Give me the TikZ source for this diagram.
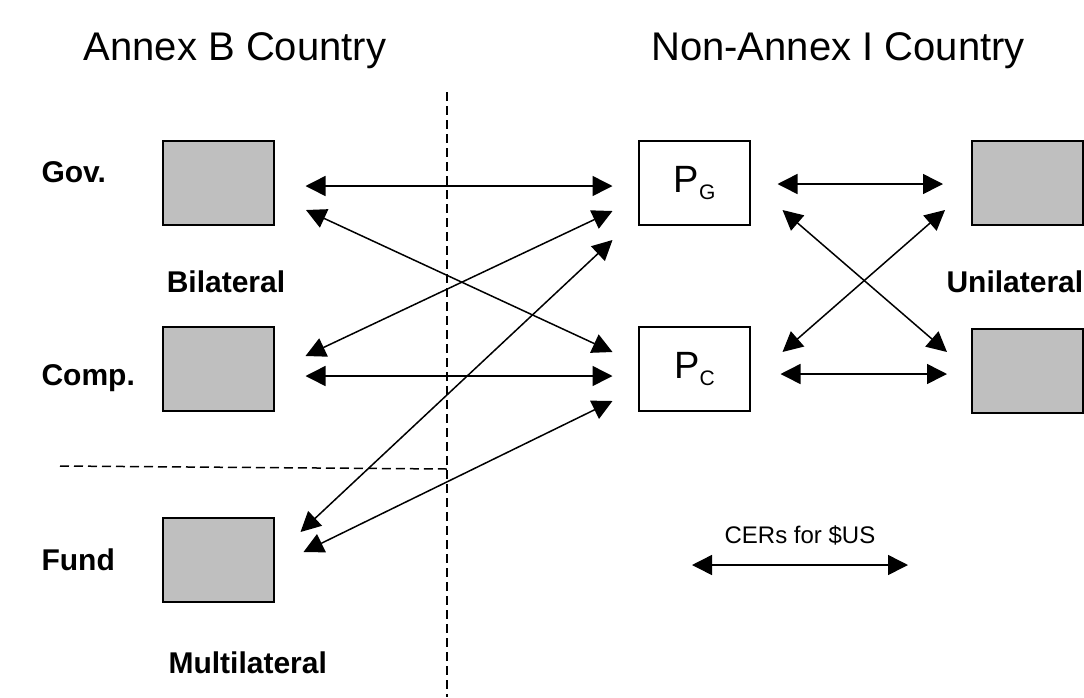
\documentclass[tikz,border=0pt]{standalone}
\usepackage{fontspec}
\setmainfont{Liberation Sans}
\usetikzlibrary{arrows.meta}
\usetikzlibrary{positioning}

\begin{document}
\begin{tikzpicture}[x=1pt,y=-1pt,
  party/.style={rectangle,draw,line width=2pt,fill=black!25,minimum width=111pt,minimum height=84pt,inner sep=0pt},
  price/.style={party,fill=white},
  flow/.style={line width=1.5pt,{Triangle[length=20pt,width=20pt]}-{Triangle[length=20pt,width=20pt]}},
  border/.style={line width=1.5pt,dash pattern=on 9pt off 5pt},
  head/.style={font=\fontsize{40}{44}\selectfont},
  side/.style={font=\bfseries\fontsize{30}{34}\selectfont}]
\useasboundingbox (0,0) rectangle (1084,697);
\clip (0,0) rectangle (1084,697);

\node[head] (annexb) at (235,51) {Annex B Country};
\node[head] (nonannex) at (838,51) {Non-Annex I Country};

\draw[border] (447,92) -- (447,697);
\draw[border] (60,466) -- (447,469);

\node[party] (gov) at (218.5,183) {};
\node[party] (comp) at (218.5,369) {};
\node[party] (fund) at (218.5,560) {};
\node[price] (pg) at (694.5,183) {\fontsize{38}{40}\selectfont P\raisebox{-7pt}{\fontsize{21}{22}\selectfont G}};
\node[price] (pc) at (694.5,369) {\fontsize{38}{40}\selectfont P\raisebox{-7pt}{\fontsize{21}{22}\selectfont C}};
\node[party] (ugov) at (1027.5,182.5) {};
\node[party] (ucomp) at (1027.5,371) {};

\node[side,anchor=west] (govlbl) at (38,172) {Gov.};
\node[side,anchor=west] (complbl) at (38,378) {Comp.};
\node[side,anchor=west] (fundlbl) at (38,560) {Fund};
\node[side] (bilat) at (226,282) {Bilateral};
\node[side,anchor=west] (unilat) at (943,282) {Unilateral};
\node[side,anchor=west] (multilat) at (165,663) {Multilateral};

\draw[flow] ([shift={(30.5,3)}]gov.east) -- ([shift={(-25.5,3)}]pg.west);
\draw[flow] ([shift={(31,27)}]gov.east) -- ([shift={(-25.5,-17)}]pc.west);
\draw[flow] ([shift={(30.5,-13)}]comp.east) -- ([shift={(-25.5,28)}]pg.west);
\draw[flow] ([shift={(30.5,7)}]comp.east) -- ([shift={(-25.5,7)}]pc.west);
\draw[flow] ([shift={(25.5,-28)}]fund.east) -- ([shift={(-25.5,57)}]pg.west);
\draw[flow] ([shift={(28.5,-8)}]fund.east) -- ([shift={(-25.5,32)}]pc.west);

\draw[flow] ([shift={(26.5,1)}]pg.east) -- ([shift={(-28,1.5)}]ugov.west);
\draw[flow] ([shift={(31.5,27)}]pg.east) -- ([shift={(-24,-19)}]ucomp.west);
\draw[flow] ([shift={(31.5,-17)}]pc.east) -- ([shift={(-26,27.5)}]ugov.west);
\draw[flow] ([shift={(29.5,5)}]pc.east) -- ([shift={(-24,3)}]ucomp.west);

\node[font=\fontsize{24}{28}\selectfont,anchor=base] (cer) at (800,543) {CERs for \$US};
\coordinate (cerl) at (692,565);
\coordinate (cerr) at (908,565);
\draw[flow] (cerl) -- (cerr);

\end{tikzpicture}
\end{document}
